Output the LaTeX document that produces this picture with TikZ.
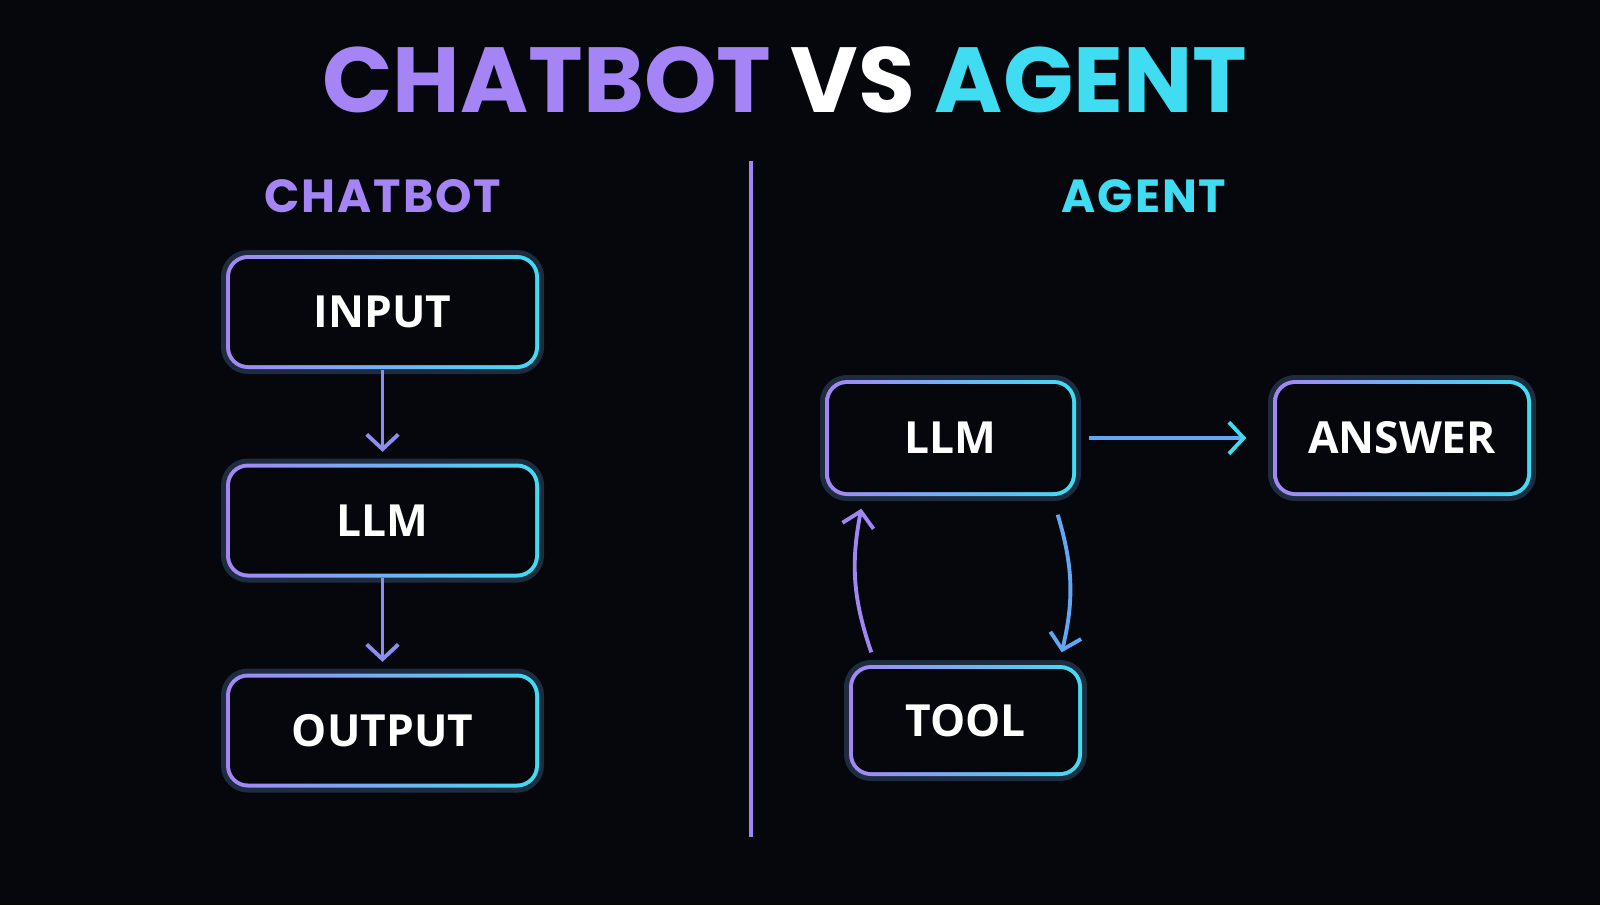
\documentclass[tikz,border=0pt]{standalone}
\usepackage{fontspec}
\setmainfont{Poppins}
\newfontfamily\headfont[LetterSpace=4]{Poppins}
\newfontfamily\labelfont{Open Sans}
\usetikzlibrary{arrows.meta}

\definecolor{bg}{HTML}{06070D}
\definecolor{purp}{HTML}{A585F5}
\definecolor{cyn}{HTML}{40DCF2}
\definecolor{peri}{HTML}{8C8CF2}
\definecolor{skyb}{HTML}{60A8F6}

\tikzset{
  box/.style={rounded corners=0.22cm, minimum height=1.14cm,
    left color=purp, right color=cyn, text=white,
    font=\labelfont\bfseries\fontsize{12.6}{15}\selectfont,
    preaction={draw=cyn!50!purp, line width=0.10cm, opacity=0.22},
    path picture={\fill[bg, rounded corners=0.18cm]
      ([shift={(0.04,0.04)}]path picture bounding box.south west) rectangle
      ([shift={(-0.04,-0.04)}]path picture bounding box.north east);}},
  link/.style={line width=1.1pt, -{Straight Barb[length=4.2pt,width=9pt]}},
}

\begin{document}
\begin{tikzpicture}
\fill[bg] (0,0) rectangle (16,-9.05);
\useasboundingbox (0,0) rectangle (16,-9.05);

% title
\node (title) at (7.85,-0.80) [font=\bfseries\fontsize{26.3}{30}\selectfont]
  {\textcolor{purp}{CHATBOT} \textcolor{white}{VS} \textcolor{cyn}{AGENT}};

\node (chatH) at (3.83,-1.96) [text=purp, font=\headfont\bfseries\fontsize{13.2}{16}\selectfont]{CHATBOT};
\node (agentH) at (11.44,-1.96) [text=cyn, font=\headfont\bfseries\fontsize{13.2}{16}\selectfont]{AGENT};

% divider
\coordinate (divT) at (7.51,-1.61);
\coordinate (divB) at (7.51,-8.37);
\draw [purp!85!peri, line width=0.9pt] (divT) -- (divB);

% chatbot
\node (input) at (3.825,-3.12) [box, minimum width=3.13cm]{INPUT};
\node (llmA) at (3.825,-5.205) [box, minimum width=3.13cm]{LLM};
\node (output) at (3.825,-7.305) [box, minimum width=3.13cm]{OUTPUT};

\draw [link, peri, shorten >=0.11cm] (input) -- (llmA);
\draw [link, peri, shorten >=0.11cm] (llmA) -- (output);

% agent
\node (llmB) at (9.505,-4.38) [box, minimum width=2.51cm, minimum height=1.16cm]{LLM};
\node (answer) at (14.02,-4.38) [box, minimum width=2.58cm, minimum height=1.16cm]{ANSWER};
\node (tool) at (9.655,-7.205) [box, minimum width=2.33cm, minimum height=1.11cm]{TOOL};

\draw [link, skyb, -{Straight Barb[length=4.2pt,width=9pt,color=cyn]}, shorten <=0.12cm, shorten >=0.26cm] (llmB) -- (answer);
\draw [link, skyb] ([shift={(-0.19,-0.18)}]llmB.south east) to[bend left=15] ([shift={(-0.21,0.12)}]tool.north east);
\draw [link, purp!80!peri] ([shift={(0.23,0.12)}]tool.north west) to[bend left=15] ([shift={(0.37,-0.12)}]llmB.south west);

\end{tikzpicture}
\end{document}
